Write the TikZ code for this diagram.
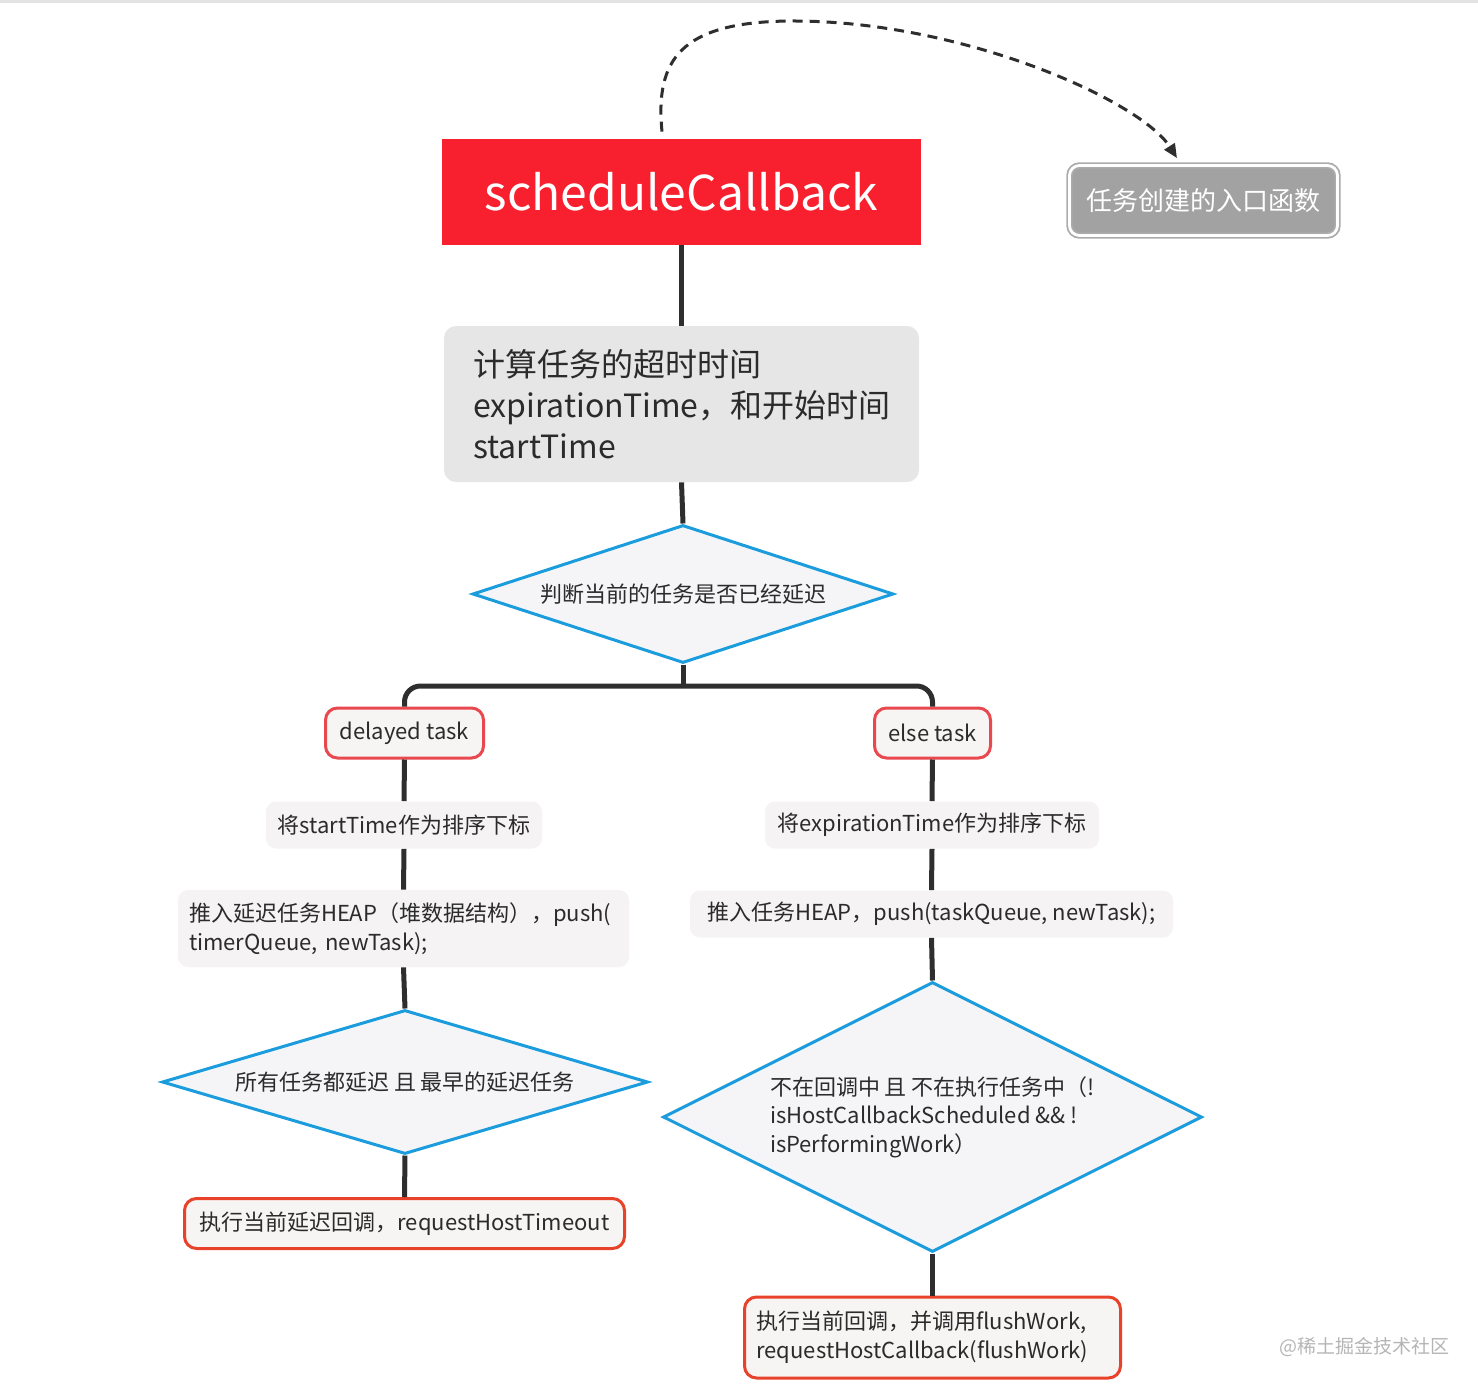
\documentclass[tikz,border=0pt]{standalone}
\usepackage{fontspec}
\setmainfont{Noto Sans CJK SC}
\usetikzlibrary{shapes.geometric,arrows.meta}
\definecolor{schedred}{HTML}{F8202E}
\definecolor{entrygray}{HTML}{A2A2A2}
\definecolor{entryedge}{HTML}{ABABAB}
\definecolor{calcgray}{HTML}{E6E6E6}
\definecolor{tagfill}{HTML}{F7F4F4}
\definecolor{tagred}{HTML}{E8484E}
\definecolor{resred}{HTML}{E8422A}
\definecolor{stepfill}{HTML}{F5F3F3}
\definecolor{diafill}{HTML}{F5F5F7}
\definecolor{diablue}{HTML}{1A9CDD}
\definecolor{cline}{HTML}{2E2E2E}
\definecolor{textdark}{HTML}{2B2B2B}
\definecolor{wmgray}{HTML}{B5B5B5}
\definecolor{topgray}{HTML}{E3E3E3}
\tikzset{
  conn/.style={draw=cline, line width=2.5pt},
  dashline/.style={draw=cline, line width=1.5pt, dash pattern=on 5pt off 3.5pt, -{Triangle[length=7pt,width=6pt]}},
  schedbox/.style={rectangle, fill=schedred, text=white, minimum width=239.5pt, minimum height=53pt, inner sep=0pt, font=\fontsize{24}{28}\selectfont},
  entrybox/.style={rectangle, rounded corners=5pt, fill=entrygray, draw=entryedge, line width=0.9pt, double=white, double distance=1.4pt, minimum width=134pt, minimum height=35pt, text=white, font=\fontsize{13}{15}\selectfont},
  calcbox/.style={rectangle, rounded corners=6pt, fill=calcgray, text width=208.5pt, inner xsep=14.5pt, minimum height=78pt, align=left, text=textdark, font=\fontsize{16}{20.5}\selectfont},
  tagbox/.style={rectangle, rounded corners=6pt, fill=tagfill, draw=tagred, line width=1.5pt, inner xsep=6pt, minimum height=25pt, text=textdark, font=\fontsize{11}{14.5}\selectfont},
  stepbox/.style={rectangle, rounded corners=5pt, fill=stepfill, inner xsep=5.5pt, minimum height=23.5pt, align=left, text=textdark, font=\fontsize{11}{14.5}\selectfont},
  resultbox/.style={rectangle, rounded corners=6pt, fill=tagfill, draw=resred, line width=1.5pt, inner xsep=6pt, minimum height=25pt, align=left, text=textdark, font=\fontsize{11}{14.5}\selectfont},
  decision/.style={diamond, fill=diafill, draw=diablue, line width=1.5pt, inner sep=0pt, align=left, text=textdark, font=\fontsize{11}{14.3}\selectfont},
}
\begin{document}
\begin{tikzpicture}[x=0.5pt,y=-0.5pt]
\useasboundingbox (0,0) rectangle (1478,1392);
\draw[topgray, line width=1.5pt] (0,1) -- (1478,1);

\node[schedbox] (sched) at (681.5,192) {scheduleCallback};
\node[entrybox] (entry) at (1203.5,200.5) {任务创建的入口函数};
\node[calcbox] (calc) at (681.5,404) {计算任务的超时时间\\expirationTime，和开始时间\\startTime};
\node[decision, aspect=3.05, minimum width=210.5pt, minimum height=69pt] (d1) at (683,594) {判断当前的任务是否已经延迟};

\node[tagbox, minimum width=79pt] (delayed) at (404.5,733) {delayed task};
\node[tagbox, minimum width=58pt] (else) at (932.5,733) {else task};

\node[stepbox, minimum width=138pt] (s1) at (404,825) {将startTime作为排序下标};
\node[stepbox, minimum height=38.5pt, text width=214.5pt] (s2) at (403.5,928.5) {推入延迟任务HEAP（堆数据结构），push(\\timerQueue, newTask);};
\node[decision, aspect=3.4, minimum width=243pt, minimum height=72pt] (d2) at (405,1082) {所有任务都延迟 且 最早的延迟任务};
\node[resultbox, minimum width=220pt] (r1) at (404.5,1223.5) {执行当前延迟回调，requestHostTimeout};

\node[stepbox, minimum width=167pt] (s3) at (932,825) {将expirationTime作为排序下标};
\node[stepbox, minimum width=241.5pt] (s4) at (931.5,914) {推入任务HEAP，push(taskQueue, newTask);};
\node[decision, aspect=2, minimum width=269.5pt, minimum height=135pt] (d3) at (932.5,1117) {不在回调中 且 不在执行任务中（!\\isHostCallbackScheduled \&\& !\\isPerformingWork）};
\node[resultbox, minimum height=40.5pt, text width=176pt] (r2) at (932.5,1337.5) {执行当前回调，并调用flushWork,\\requestHostCallback(flushWork)};

\node[font=\fontsize{9.5}{11}\selectfont, text=wmgray] (wm) at (1364,1347) {@稀土掘金技术社区};

% connectors
\draw[conn] (sched.south) -- (calc.north);
\draw[conn] (calc.south) -- (d1.north);
\coordinate (split) at (683,686);
\draw[conn] (d1.south) -- (split);
\draw[conn, rounded corners=8pt] (delayed.north) |- (split) -| (else.north);
\draw[conn] (delayed.south) -- (s1.north);
\draw[conn] (s1.south) -- (s2.north);
\draw[conn] (s2.south) -- (d2.north);
\draw[conn] (d2.south) -- (r1.north);
\draw[conn] (else.south) -- (s3.north);
\draw[conn] (s3.south) -- (s4.north);
\draw[conn] (s4.south) -- (d3.north);
\draw[conn] (d3.south) -- (r2.north);

\draw[dashline] ([xshift=-9.75pt,yshift=3.5pt]sched.north) .. controls (655,60) and (680,22) .. (790,21) .. controls (960,20) and (1140,100) .. ([xshift=-13.25pt,yshift=3.25pt]entry.north);
\end{tikzpicture}
\end{document}
